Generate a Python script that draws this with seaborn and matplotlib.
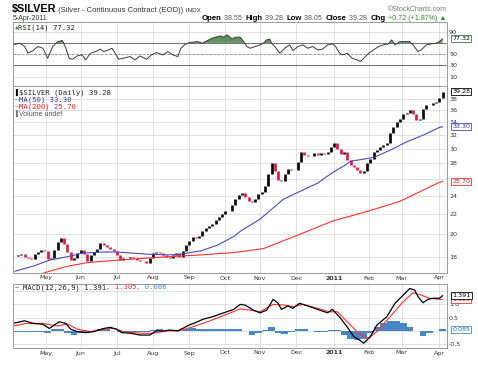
import numpy as np
import pandas as pd
import seaborn as sns
import matplotlib.pyplot as plt
from matplotlib.ticker import FixedLocator, NullLocator, FuncFormatter
from matplotlib.offsetbox import TextArea, HPacker, AnchoredOffsetbox
from matplotlib.transforms import blended_transform_factory

sns.set_style('white')
plt.rcParams['font.family'] = ['DejaVu Sans']

# trading days 5-Apr-2010 .. 5-Apr-2011, x axis = day index 0..261
days = pd.bdate_range('2010-04-05', '2011-04-05')

# price, read every 2nd trading day
candle_idx = list(range(1, 262, 2))
close_px = [18.05, 18.15, 18.25, 18.0, 17.85, 17.8, 18.2, 18.4, 18.6, 18.45,
            17.8, 17.9, 18.6, 19.3, 19.7, 19.1, 18.4, 17.7, 17.9, 18.3,
            18.6, 18.2, 17.6, 18.1, 18.4, 18.7, 19.2, 19.0, 18.8, 18.65,
            18.5, 18.1, 17.75, 17.9, 17.9, 18.0, 17.9, 17.75, 17.65, 17.6,
            17.5, 17.85, 18.3, 18.4, 18.3, 18.15, 18.0, 17.9, 18.1, 18.3,
            18.0, 18.5, 19.0, 19.4, 19.8, 19.7, 19.85, 20.3, 20.6, 20.8,
            21.0, 21.4, 21.7, 22.0, 22.3, 22.3, 23.0, 23.6, 24.1, 24.3,
            23.9, 23.4, 23.3, 23.6, 24.2, 24.5, 25.2, 26.6, 28.0, 27.0,
            25.9, 25.8, 26.6, 27.3, 27.2, 27.2, 28.2, 29.6, 29.2, 29.0,
            29.0, 29.4, 29.2, 29.4, 29.3, 29.5, 30.3, 30.8, 30.0, 29.3,
            29.5, 28.5, 27.8, 27.5, 27.1, 26.8, 27.0, 28.0, 28.6, 29.6,
            29.9, 30.2, 30.5, 30.8, 32.4, 33.3, 34.0, 34.6, 35.3, 35.6,
            36.0, 35.3, 34.4, 34.6, 36.2, 37.0, 37.0, 37.3, 37.4, 38.2,
            39.28]

ma50_idx = [1, 12, 22, 33, 42, 53, 63, 73, 83, 94, 101, 114, 124, 134, 138, 150,
            164, 174, 185, 194, 202, 205, 211, 219, 229, 239, 249, 259, 261]
ma50_val = [16.8, 17.2, 17.7, 18.0, 18.3, 18.4, 18.4, 18.3, 18.2, 18.15, 18.2, 18.5,
            19.0, 19.8, 20.3, 21.5, 23.6, 24.5, 25.5, 26.8, 27.8, 28.3, 28.5, 28.8,
            29.8, 31.0, 32.0, 33.2, 33.3]

ma200_idx = [10, 22, 33, 45, 63, 83, 101, 114, 134, 152, 174, 194, 217, 235, 259, 261]
ma200_val = [16.3, 16.8, 17.2, 17.5, 17.7, 17.9, 18.05, 18.15, 18.35, 18.7, 20.0,
             21.3, 22.4, 23.4, 25.6, 25.7]

rsi_idx = [0, 4, 7, 9, 12, 15, 18, 21, 24, 27, 30, 32, 34, 36, 39, 42, 44, 47, 50,
           53, 55, 57, 60, 62, 64, 67, 71, 74, 77, 81, 84, 87, 91, 94, 97, 100, 102,
           104, 107, 112, 115, 118, 121, 126, 128, 130, 133, 135, 138, 140, 142, 144,
           147, 150, 152, 154, 156, 157, 159, 162, 165, 168, 170, 173, 176, 179, 182,
           185, 188, 191, 194, 196, 198, 200, 203, 206, 209, 211, 213, 216, 219, 222,
           225, 228, 230, 232, 235, 238, 241, 243, 246, 248, 251, 254, 257, 259, 261]
rsi_val = [66.4, 69.5, 63.5, 51.7, 56.3, 63.4, 60.5, 42.7, 63.4, 72.3, 74.1, 60.5,
           42.7, 41.0, 46.9, 48.7, 39.8, 51.6, 54.5, 58.8, 54.5, 56.3, 60.5, 51.6,
           41.0, 42.7, 45.7, 39.8, 46.9, 41.0, 48.7, 52.8, 48.7, 54.5, 48.7, 45.7,
           60.5, 66.4, 70.5, 72.3, 69.5, 74.1, 78.4, 82.4, 80.1, 84.2, 76.6, 80.1,
           80.1, 72.3, 63.4, 60.5, 63.4, 66.4, 69.5, 75.3, 76.6, 69.5, 63.4, 51.6,
           60.5, 66.4, 56.3, 63.4, 66.4, 60.5, 63.4, 57.6, 58.8, 66.4, 68.2, 63.4,
           52.8, 48.7, 51.6, 42.7, 39.8, 36.8, 42.7, 51.6, 57.6, 63.4, 66.4, 68.2,
           75.3, 66.4, 72.3, 72.3, 72.3, 66.4, 54.5, 57.6, 66.4, 68.2, 69.5, 72.3,
           77.32]

macd_idx = [0, 7, 12, 18, 22, 25, 28, 32, 35, 39, 44, 49, 55, 59, 63, 66, 71, 77,
            83, 87, 91, 95, 100, 103, 107, 112, 115, 121, 127, 134, 138, 141, 146,
            150, 154, 158, 161, 163, 167, 170, 174, 179, 185, 191, 194, 199, 203,
            207, 211, 213, 217, 221, 227, 232, 237, 241, 244, 246, 249, 252, 255,
            259, 261]
macd_val = [0.28, 0.38, 0.28, 0.25, 0.09, 0.22, 0.34, 0.28, 0.06, -0.03, -0.07,
            -0.03, 0.09, 0.13, 0.06, -0.07, -0.09, -0.16, -0.16, 0.0, -0.01, 0.03,
            0.0, 0.09, 0.22, 0.34, 0.43, 0.53, 0.66, 0.81, 1.0, 0.97, 0.78, 0.68,
            0.78, 1.19, 1.04, 0.81, 0.94, 0.85, 1.04, 0.94, 0.81, 0.68, 0.81, 0.47,
            0.14, -0.22, -0.37, -0.47, -0.22, 0.22, 0.53, 1.04, 1.35, 1.60, 1.54,
            1.29, 1.06, 1.19, 1.23, 1.23, 1.33]

signal_idx = [0, 8, 18, 27, 33, 39, 47, 55, 61, 67, 77, 85, 94, 101, 109, 118, 126,
              138, 144, 150, 158, 165, 170, 176, 185, 192, 197, 205, 211, 216, 221,
              229, 237, 243, 248, 253, 259, 261]
signal_val = [0.18, 0.28, 0.28, 0.18, 0.26, 0.06, -0.03, 0.06, 0.09, -0.03, -0.09,
              -0.09, 0.0, 0.0, 0.15, 0.34, 0.53, 0.83, 0.78, 0.72, 1.0, 0.97, 0.91,
              1.0, 0.85, 0.72, 0.72, 0.22, -0.16, -0.28, -0.03, 0.53, 1.10, 1.44,
              1.35, 1.23, 1.19, 1.19]

# histogram read every 4th trading day
hist_idx = list(range(1, 262, 4))
hist_val = [-0.04, -0.05, -0.05, -0.04, -0.06, -0.10, 0.05, 0.07, -0.10, -0.17,
            -0.08, -0.04, 0.0, 0.05, 0.05, 0.0, -0.05, -0.05, -0.04, -0.05,
            -0.04, 0.04, 0.05, 0.01, -0.01, 0.0, 0.08, 0.10, 0.08, 0.06,
            0.05, 0.05, 0.06, 0.05, 0.06, 0.0, -0.15, -0.08, 0.02, 0.14,
            -0.08, -0.12, -0.05, 0.05, 0.06, -0.02, -0.05, -0.04, 0.02, 0.04,
            -0.15, -0.30, -0.36, -0.30, -0.10, 0.15, 0.28, 0.38, 0.36, 0.28,
            0.14, -0.02, -0.20, -0.08, 0.0, 0.086]

W, H = 478, 376
fig = plt.figure(figsize=(W / 100, H / 100), dpi=100)


def panel(top, bottom):
    return fig.add_axes([13 / W, 1 - bottom / H, 434 / W, (bottom - top) / H])


ax_rsi = panel(22, 86)
ax_px = panel(86, 273)
ax_macd = panel(284, 348)

# month gridlines / labels
pos = pd.Series(range(len(days)), index=days)
firsts = pos.groupby([days.year, days.month]).first().iloc[1:]
month_pos = list(firsts.values)
month_lab = ['2011' if m == 1 else pd.Timestamp(2000, m, 1).strftime('%b')
             for (y, m) in firsts.index]

grid_c = '#dcdcdc'
for ax in (ax_rsi, ax_px, ax_macd):
    ax.set_xlim(-0.1, 263.6)
    ax.xaxis.set_major_locator(FixedLocator(month_pos))
    ax.set_xticklabels(month_lab)
    ax.yaxis.tick_right()
    ax.tick_params(axis='y', length=0, pad=1.5, labelsize=4.6, labelcolor='#333333')
    ax.tick_params(axis='x', length=0, pad=1.8, labelsize=4.5, labelcolor='#333333')
    ax.grid(True, color=grid_c, lw=0.6)
    ax.set_axisbelow(True)
    for s in ax.spines.values():
        s.set_color('#9a9a9a')
        s.set_linewidth(0.7)
    for t in ax.get_xticklabels():
        if t.get_text() == '2011':
            t.set_fontweight('bold')
ax_rsi.tick_params(axis='x', labelbottom=False)


def tick_text(hidden, fmt):
    # labels sitting under a value tag are left blank, as on the chart
    return FuncFormatter(lambda v, p: '' if any(abs(v - h) < 1e-6 for h in hidden) else fmt.format(v))


# ---- RSI
ax_rsi.set_ylim(-6.5, 107)
ax_rsi.yaxis.set_major_locator(FixedLocator([10, 30, 50, 70, 90]))
ax_rsi.yaxis.set_major_formatter(tick_text([70], '{:.0f}'))
ax_rsi.axhline(70, color='#707070', lw=0.7)
ax_rsi.axhline(30, color='#707070', lw=0.7)
ax_rsi.axhline(50, color='#909090', lw=0.6, ls=(0, (3, 2)))
r = np.array(rsi_val)
ax_rsi.fill_between(rsi_idx, r, 70, where=r > 70, interpolate=True,
                    color='#4f8a4f', lw=0, alpha=0.9)
sns.lineplot(x=rsi_idx, y=rsi_val, ax=ax_rsi, color='#3a3a3a', lw=0.7)

# ---- price
opens = [close_px[0]] + close_px[:-1]
cdf = pd.DataFrame({'idx': candle_idx, 'open': opens, 'close': close_px})
up = cdf[cdf.close >= cdf.open]
dn = cdf[cdf.close < cdf.open]
ax_px.vlines(up.idx, up.open, up.close, color='black', lw=1.9)
ax_px.vlines(dn.idx, dn.close, dn.open, color='#e0143c', lw=1.9)
sns.lineplot(x=ma50_idx, y=ma50_val, ax=ax_px, color='#4b4bc3', lw=0.8)
sns.lineplot(x=ma200_idx, y=ma200_val, ax=ax_px, color='#ff3030', lw=0.8)
ax_px.set_yscale('log')
ax_px.set_ylim(16.66, 40.4)
ax_px.yaxis.set_major_locator(FixedLocator(list(range(18, 40, 2))))
ax_px.yaxis.set_minor_locator(NullLocator())
ax_px.yaxis.set_major_formatter(tick_text([26], '{:.0f}'))

# ---- MACD
ax_macd.set_ylim(-0.65, 1.77)
ax_macd.yaxis.set_major_locator(FixedLocator([-0.5, 0.0, 0.5, 1.0, 1.5]))
ax_macd.yaxis.set_major_formatter(tick_text([0.0, 1.5], '{:.1f}'))
ax_macd.bar(hist_idx, hist_val, width=4.0, color='#4a86c5', lw=0)
sns.lineplot(x=signal_idx, y=signal_val, ax=ax_macd, color='#ff3030', lw=0.8)
sns.lineplot(x=macd_idx, y=macd_val, ax=ax_macd, color='black', lw=0.9)
for ax in (ax_rsi, ax_px, ax_macd):
    ax.set_xlabel('')
    ax.set_ylabel('')


# value tags on the right edge
def tag(ax, y, text, ec, tc='black'):
    tr = blended_transform_factory(ax.transAxes, ax.transData)
    ax.text(1.012, y, text, transform=tr, ha='left', va='center', fontsize=4.6,
            color=tc, clip_on=False, zorder=10,
            bbox=dict(boxstyle='square,pad=0.15', fc='white', ec=ec, lw=0.6))


tag(ax_rsi, 77.32, '77.32', '#3c7a3c')
tag(ax_px, 39.28, '39.28', 'black')
tag(ax_px, 33.30, '33.30', '#4b4bc3', '#33339a')
tag(ax_px, 25.70, '25.70', '#ff3030', '#cc2020')
tag(ax_macd, 1.19, '1.305', '#ff3030', '#cc2020')
tag(ax_macd, 1.33, '1.391', 'black')
tag(ax_macd, 0.06, '0.085', '#4a86c5', '#2a66a5')


# header / legend rows built from text pieces
def row(parts, x, y, loc='center left', sep=0.0):
    kids = [TextArea(t, textprops=p) for t, p in parts]
    box = HPacker(children=kids, sep=sep, pad=0, align='baseline')
    anch = AnchoredOffsetbox(loc=loc, child=box, pad=0, borderpad=0, frameon=False,
                             bbox_to_anchor=(x / W, 1 - y / H),
                             bbox_transform=fig.transFigure)
    fig.add_artist(anch)


sans = 'Liberation Sans'
mono = 'DejaVu Sans Mono'
row([('$SILVER', dict(family=sans, size=7.8, weight='bold', color='black')),
     (' (Silver - Continuous Contract (EOD))', dict(family=sans, size=5.5, color='#333333')),
     (' INDX', dict(family=sans, size=4.6, color='#333333'))], 12, 9)
fig.text(13 / W, 1 - 18.5 / H, '5-Apr-2011', family=sans, size=5.0, color='#333333',
         va='center', ha='left')
fig.text(447 / W, 1 - 9.5 / H, '\u00a9StockCharts.com', family=sans, size=5.0,
         color='#777777', va='center', ha='right')

lab = dict(family=sans, size=5.6, weight='bold', color='black')
val = dict(family=sans, size=5.1, color='#555555')
row([('Open', lab), (' 38.55  ', val), ('High', lab), (' 39.28  ', val),
     ('Low', lab), (' 38.05  ', val), ('Close', lab), (' 39.28  ', val),
     ('Chg', lab), (' +0.72 (+1.87%) \u25b2', dict(family=sans, size=5.1, color='#2e8b2e'))],
    446, 18.5, loc='center right')

leg = dict(family=mono, size=5.2)
row([('\u25b2', dict(family=mono, size=4.2, color='#4f8a4f')),
     ('RSI(14) 77.32', dict(leg, color='#222222'))], 15, 27.5)
row([('\u258c', dict(family=mono, size=4.6, color='black')),
     ('$SILVER (Daily) 39.28', dict(leg, color='#222222'))], 15, 92.5)
row([('\u2014', dict(family=mono, size=4.6, color='#4b4bc3')),
     ('MA(50) 33.30', dict(leg, color='#33339a'))], 15, 99.5)
row([('\u2014', dict(family=mono, size=4.6, color='#ff3030')),
     ('MA(200) 25.70', dict(leg, color='#ee2020'))], 15, 106.5)
row([('\u258c', dict(family=mono, size=4.6, color='#777777')),
     ('Volume undef', dict(family=sans, size=5.0, color='#555555'))], 15, 113.5)
row([('\u2014 ', dict(family=mono, size=4.6, color='black')),
     ('MACD(12,26,9) 1.391', dict(leg, color='#222222')),
     (', 1.305', dict(leg, color='#ff3030')),
     (', 0.086', dict(leg, color='#4a86c5'))], 15, 287.5)

fig.savefig('out.png', dpi=100)
